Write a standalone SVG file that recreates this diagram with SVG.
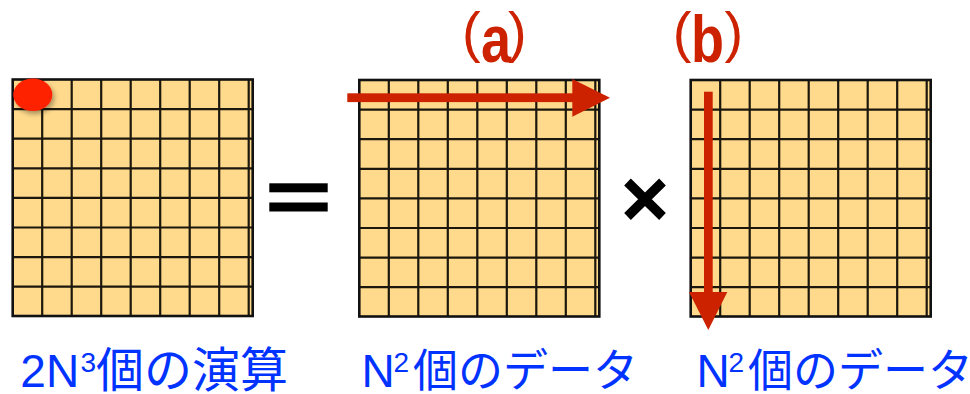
<svg xmlns="http://www.w3.org/2000/svg" xmlns:xlink="http://www.w3.org/1999/xlink" width="970" height="394" viewBox="0 0 970 394">
<style>
.cell{fill:#FFDA8C}
.gl{fill:none;stroke:#1c170c;stroke-width:2.2}
.frame{fill:none;stroke:#111;stroke-width:2.6}
.op{fill:#000}
.red{fill:#CC2200}
.lbl{font-family:"Liberation Sans","Noto Sans CJK JP",sans-serif;fill:#CC2200}
.cap{font-family:"Liberation Sans","Noto Sans CJK JP",sans-serif;fill:#0033FF;font-size:46px}
.cjk{font-family:"Noto Sans CJK JP",sans-serif;font-size:45px;font-weight:400}
.sup{font-size:28px}
</style>
<defs>
<g id="grid">
<rect class="cell" x="0" y="0" width="240" height="236.5"/>
<path class="gl" d="M29.5 0V236.5M59 0V236.5M88.5 0V236.5M118 0V236.5M147.5 0V236.5M177 0V236.5M206.5 0V236.5M236 0V236.5M0 29.6H240M0 59.2H240M0 88.8H240M0 118.4H240M0 148H240M0 177.6H240M0 207.2H240"/>
<rect class="frame" x="0" y="0" width="240" height="236.5"/>
</g>
<filter id="sh" x="-50%" y="-50%" width="200%" height="200%">
<feDropShadow dx="2" dy="3" stdDeviation="2.5" flood-color="#000" flood-opacity="0.35"/>
</filter>
</defs>

<g id="matrixC">
<use xlink:href="#grid" href="#grid" transform="translate(12.7,79.5)"/>
<ellipse cx="32.8" cy="94.7" rx="19.5" ry="16.3" fill="#FF2200" filter="url(#sh)"/>
</g>

<g id="equals">
<rect class="op" x="269.3" y="183.3" width="58.4" height="9"/>
<rect class="op" x="269.3" y="202.5" width="58.4" height="9"/>
</g>

<g id="matrixA">
<use xlink:href="#grid" href="#grid" transform="translate(359.3,80)"/>
</g>

<g id="times">
<path d="M627.5 182L662.5 216.5M662.5 182L627.5 216.5" stroke="#000" stroke-width="9.5" fill="none"/>
</g>

<g id="matrixB">
<use xlink:href="#grid" href="#grid" transform="translate(690.7,80)"/>
</g>

<g id="connectors">
<g id="arrowA">
<rect class="red" x="347.3" y="93.3" width="226" height="8.8"/>
<polygon class="red" points="572.3,79 610,97.7 572.3,116.7"/>
</g>
<g id="arrowB">
<rect class="red" x="704" y="91.7" width="8.7" height="201"/>
<polygon class="red" points="689,292 727.3,292 708.3,330"/>
</g>
</g>

<g id="labelA">
<text class="lbl" x="462" y="51" font-size="56">(</text>
<text class="lbl" font-size="54" font-weight="bold" transform="translate(481,62) scale(1,1.25)">a</text>
<text class="lbl" x="508" y="51" font-size="56">)</text>
</g>
<g id="labelB">
<text class="lbl" x="672.7" y="51" font-size="56">(</text>
<text class="lbl" font-size="54" font-weight="bold" transform="translate(691,62) scale(1,1.25)">b</text>
<text class="lbl" x="724.5" y="51" font-size="56">)</text>
</g>

<g id="captionC">
<text class="cap" x="20.3" y="387">2N<tspan class="sup" x="80.5" dy="-15">3</tspan><tspan class="cjk" x="96" dy="15" style="font-size:48px">個の演算</tspan></text>
</g>
<g id="captionA">
<text class="cap" x="361.5" y="387">N<tspan class="sup" x="393.5" dy="-15">2</tspan><tspan class="cjk" x="413" dy="15">個のデータ</tspan></text>
</g>
<g id="captionB">
<text class="cap" x="696.5" y="387">N<tspan class="sup" x="728.5" dy="-15">2</tspan><tspan class="cjk" x="748" dy="15">個のデータ</tspan></text>
</g>
</svg>
